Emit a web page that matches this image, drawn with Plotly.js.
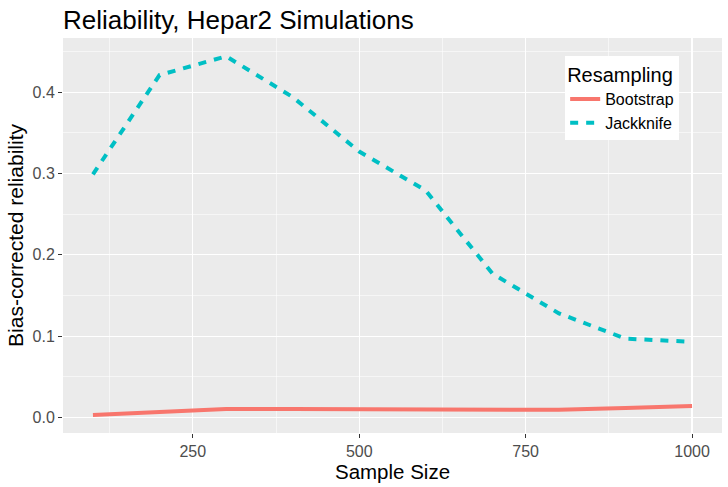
<!DOCTYPE html>
<html>
<head>
<meta charset="utf-8">
<script src="https://cdn.plot.ly/plotly-3.0.1.min.js"></script>
<style>
  html, body { margin: 0; padding: 0; background: #ffffff; }
  #chart { width: 728px; height: 487px; }
</style>
</head>
<body>
<div id="chart"></div>
<script>
// sample sizes used in the simulation
var sampleSize = [100, 200, 300, 400, 500, 600, 700, 800, 900, 1000];

// bias-corrected reliability
var bootstrap = [0.0031, 0.0068, 0.0105, 0.0106, 0.0106, 0.0104, 0.0096, 0.0095, 0.0118, 0.0142];
var jackknife = [0.299, 0.421, 0.444, 0.394, 0.327, 0.279, 0.177, 0.128, 0.097, 0.093];

var seriesNames = ['Bootstrap', 'Jackknife'];
var seriesColors = ['#F8766D', '#00BFC4'];

var FONT = 'Liberation Sans, Arial, sans-serif';

var traces = [
  {
    x: sampleSize, y: bootstrap, name: seriesNames[0],
    type: 'scatter', mode: 'lines',
    line: {color: seriesColors[0], width: 4}
  },
  {
    x: sampleSize, y: jackknife, name: seriesNames[1],
    type: 'scatter', mode: 'lines',
    line: {color: seriesColors[1], width: 4, dash: '8px,8px'}
  }
];

var layout = {
  width: 728,
  height: 487,
  margin: {l: 63, r: 6, t: 38, b: 54},
  paper_bgcolor: '#ffffff',
  plot_bgcolor: '#EBEBEB',
  font: {family: FONT, color: '#000000'},
  title: {
    text: 'Reliability, Hepar2 Simulations',
    font: {family: FONT, size: 26, color: '#000000'},
    xref: 'paper', x: 0, xanchor: 'left',
    yref: 'container', y: 0.96, yanchor: 'middle'
  },
  xaxis: {
    range: [55, 1045],
    tick0: 0, dtick: 250,
    ticks: 'outside', ticklen: 4, tickwidth: 1, tickcolor: '#333333',
    tickfont: {family: FONT, size: 16, color: '#4D4D4D'},
    gridcolor: '#FFFFFF', gridwidth: 1.1,
    minor: {dtick: 125, gridcolor: '#FFFFFF', gridwidth: 0.55, ticks: ''},
    zeroline: false, showline: false,
    title: {text: 'Sample Size', font: {family: FONT, size: 20.5, color: '#000000'}, standoff: 5}
  },
  yaxis: {
    range: [-0.019, 0.4665],
    tick0: 0, dtick: 0.1, tickformat: '.1f',
    ticks: 'outside', ticklen: 4, tickwidth: 1, tickcolor: '#333333',
    tickfont: {family: FONT, size: 16, color: '#4D4D4D'},
    gridcolor: '#FFFFFF', gridwidth: 1.1,
    minor: {dtick: 0.05, gridcolor: '#FFFFFF', gridwidth: 0.55, ticks: ''},
    zeroline: false, showline: false,
    title: {text: 'Bias-corrected reliability', font: {family: FONT, size: 21, color: '#000000'}, standoff: 3}
  },
  showlegend: true,
  legend: {
    x: 0.762, y: 0.954, xanchor: 'left', yanchor: 'top',
    bgcolor: '#FFFFFF', borderwidth: 0,
    font: {family: FONT, size: 16, color: '#000000'},
    title: {text: 'Resampling', font: {family: FONT, size: 20, color: '#000000'}},
    itemwidth: 30, tracegroupgap: 0
  }
};

Plotly.newPlot('chart', traces, layout, {displayModeBar: false, staticPlot: true});
</script>
</body>
</html>
